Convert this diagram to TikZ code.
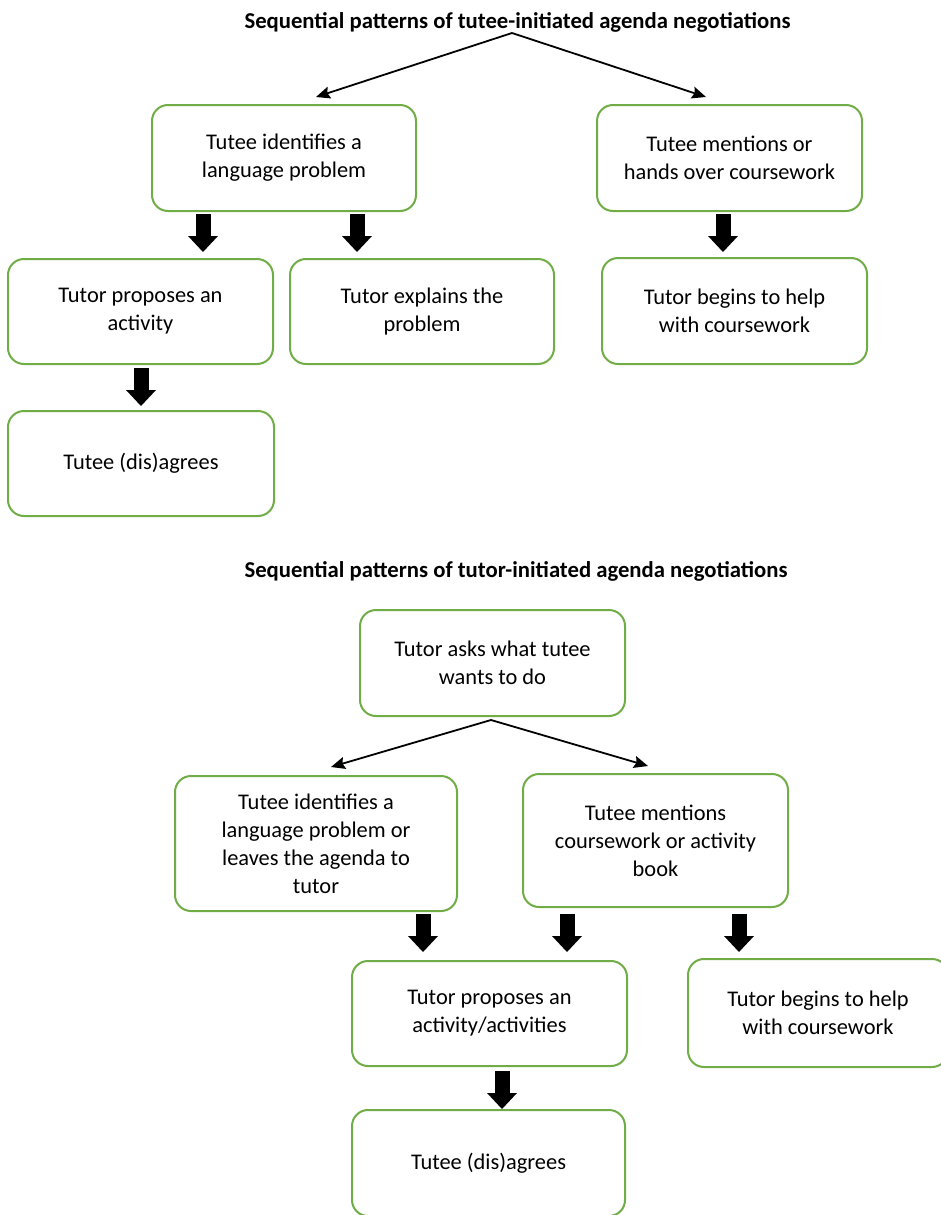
\documentclass[tikz,border=0pt]{standalone}
\usepackage{fontspec}
\setmainfont{Carlito}
\usetikzlibrary{arrows.meta,calc}
\definecolor{boxgreen}{RGB}{112,173,71}
\tikzset{
  box/.style={draw=boxgreen, line width=2pt, rounded corners=16pt, align=center,
    font=\fontsize{22.4}{28}\selectfont, inner sep=0pt, fill=white},
  ttl/.style={font=\bfseries\fontsize{22.7}{27}\selectfont, inner sep=0pt},
  thin/.style={line width=1.8pt, -{Stealth[length=14pt,width=12pt,inset=2pt]}},
  blk/.style={line width=15pt, -{Triangle[width=30pt,length=16pt,line width=0pt]}}
}
\begin{document}
\begin{tikzpicture}[x=1pt,y=-1pt]
\useasboundingbox (0,0) rectangle (940,1215);
% ---------- top section ----------
\node[ttl] (T1) at (517.5,22) {Sequential patterns of tutee-initiated agenda negotiations};
\coordinate (t1) at (512,33);
\coordinate (t1a) at (316,97);
\coordinate (t1b) at (706,97);
\node[box, minimum width=264pt, minimum height=106pt] (A) at (284,158) {Tutee identifies a\\language problem};
\node[box, minimum width=265pt, minimum height=106pt] (B) at (729.5,158) {Tutee mentions or\\hands over coursework};
\node[box, minimum width=265pt, minimum height=105pt] (C) at (140.5,311.5) {Tutor proposes an\\activity};
\node[box, minimum width=264pt, minimum height=105pt] (D) at (422,311.5) {Tutor explains the\\problem};
\node[box, minimum width=265pt, minimum height=106pt] (E) at (734.5,311) {Tutor begins to help\\with coursework};
\node[box, minimum width=266pt, minimum height=105pt] (F) at (141,463.5) {Tutee (dis)agrees};
\draw[thin] (t1) -- (t1a);
\draw[thin] (t1) -- (t1b);
\draw[blk, shorten <=2pt, shorten >=6pt] ([xshift=-81pt]A.south) -- ([xshift=-81pt]A.south |- C.north);
\draw[blk, shorten <=2pt, shorten >=6pt] ([xshift=73pt]A.south) -- ([xshift=73pt]A.south |- D.north);
\draw[blk, shorten <=2pt, shorten >=5pt] ([xshift=-6.5pt]B.south) -- ([xshift=-6.5pt]B.south |- E.north);
\draw[blk, shorten <=3pt, shorten >=4pt] ([xshift=0.5pt]C.south) -- ([xshift=0.5pt]C.south |- F.north);
% ---------- bottom section ----------
\node[ttl] (T2) at (516,571) {Sequential patterns of tutor-initiated agenda negotiations};
\node[box, minimum width=265pt, minimum height=106pt] (G) at (492.5,663) {Tutor asks what tutee\\wants to do};
\coordinate (t2) at (491,720);
\coordinate (t2a) at (331,767);
\coordinate (t2b) at (648,766);
\node[box, minimum width=282pt, minimum height=135pt] (H) at (316,843.5) {Tutee identifies a\\language problem or\\leaves the agenda to\\tutor};
\node[box, minimum width=265pt, minimum height=133pt] (I) at (655.5,840.5) {Tutee mentions\\coursework or activity\\book};
\node[box, minimum width=275pt, minimum height=105pt] (J) at (489.5,1013.5) {Tutor proposes an\\activity/activities};
\node[box, minimum width=260pt, minimum height=108pt] (K) at (818,1013) {Tutor begins to help\\with coursework};
\node[box, minimum width=273pt, minimum height=106pt] (L) at (488.5,1163) {Tutee (dis)agrees};
\draw[thin] (t2) -- (t2a);
\draw[thin] (t2) -- (t2b);
\draw[blk, shorten <=2pt, shorten >=8pt] ([xshift=107pt]H.south) -- ([xshift=107pt]H.south |- J.north);
\draw[blk, shorten <=6pt, shorten >=8pt] ([xshift=-88.5pt]I.south) -- ([xshift=-88.5pt]I.south |- J.north);
\draw[blk, shorten <=6pt, shorten >=6pt] ([xshift=83.5pt]I.south) -- ([xshift=83.5pt]I.south |- K.north);
\draw[blk, shorten <=4pt, shorten >=0pt] ([xshift=12.5pt]J.south) -- ([xshift=12.5pt]J.south |- L.north);
\end{tikzpicture}
\end{document}
